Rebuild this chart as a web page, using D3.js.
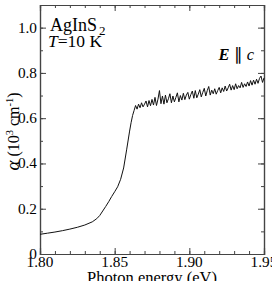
<!DOCTYPE html>
<html>
<head>
<meta charset="utf-8">
<script src="https://cdn.jsdelivr.net/npm/d3@7"></script>
<style>
  body { margin: 0; background: #fff; }
</style>
</head>
<body>
<div id="chart"></div>
<script>
// absorption edge (smooth part)
const edgeEnergy = [1.800, 1.805, 1.810, 1.815, 1.820, 1.825, 1.830, 1.835, 1.838, 1.840,
  1.842, 1.844, 1.846, 1.848, 1.850, 1.852, 1.854, 1.856, 1.858, 1.860, 1.861, 1.862];
const edgeAlpha = [0.087, 0.092, 0.097, 0.103, 0.110, 0.118, 0.128, 0.142, 0.156, 0.170,
  0.190, 0.210, 0.231, 0.254, 0.275, 0.297, 0.330, 0.380, 0.460, 0.543, 0.580, 0.612];

// above the gap (noisy part)
const plateauEnergy = [1.863, 1.864, 1.865, 1.866, 1.867, 1.868, 1.869, 1.870, 1.871, 1.872,
  1.873, 1.874, 1.875, 1.876, 1.877, 1.878, 1.879, 1.880, 1.881, 1.882,
  1.883, 1.884, 1.885, 1.886, 1.887, 1.888, 1.889, 1.890, 1.891, 1.892,
  1.893, 1.894, 1.895, 1.896, 1.897, 1.898, 1.899, 1.900, 1.901, 1.902,
  1.903, 1.904, 1.905, 1.906, 1.907, 1.908, 1.909, 1.910, 1.911, 1.912,
  1.913, 1.914, 1.915, 1.916, 1.917, 1.918, 1.919, 1.920, 1.921, 1.922,
  1.923, 1.924, 1.925, 1.926, 1.927, 1.928, 1.929, 1.930, 1.931, 1.932,
  1.933, 1.934, 1.935, 1.936, 1.937, 1.938, 1.939, 1.940, 1.941, 1.942,
  1.943, 1.944, 1.945, 1.946, 1.947, 1.948, 1.949, 1.950];
const plateauAlpha = [0.634, 0.656, 0.640, 0.662, 0.646, 0.668, 0.650, 0.662, 0.676, 0.650,
  0.678, 0.655, 0.683, 0.658, 0.692, 0.656, 0.684, 0.722, 0.664, 0.698,
  0.662, 0.702, 0.668, 0.686, 0.708, 0.668, 0.698, 0.672, 0.692, 0.712,
  0.672, 0.700, 0.680, 0.710, 0.682, 0.702, 0.714, 0.684, 0.704, 0.720,
  0.688, 0.722, 0.690, 0.706, 0.726, 0.694, 0.714, 0.732, 0.698, 0.722,
  0.740, 0.702, 0.724, 0.708, 0.730, 0.706, 0.722, 0.736, 0.712, 0.734,
  0.718, 0.742, 0.720, 0.734, 0.750, 0.724, 0.744, 0.726, 0.752, 0.730,
  0.744, 0.734, 0.758, 0.736, 0.752, 0.740, 0.760, 0.742, 0.766, 0.746,
  0.768, 0.750, 0.772, 0.754, 0.776, 0.786, 0.758, 0.778];

const xTicks = [1.80, 1.85, 1.90, 1.95];
const xTickLabels = ["1.80", "1.85", "1.90", "1.95"];
const yTicks = [0, 0.2, 0.4, 0.6, 0.8, 1.0];
const yTickLabels = ["0", "0.2", "0.4", "0.6", "0.8", "1.0"];

const width = 272, height = 281;
const margin = {top: 5, right: 8, bottom: 27, left: 40};
const serif = "Liberation Serif";

const svg = d3.select("#chart").append("svg")
  .attr("width", width).attr("height", height)
  .attr("font-family", serif);

const x = d3.scaleLinear().domain([1.80, 1.95]).range([margin.left, width - margin.right]);
const y = d3.scaleLinear().domain([0, 1.1]).range([height - margin.bottom, margin.top]);

const axisColor = "#444";
const fs = "15.3px";

// minor ticks
const xMinor = d3.range(1.80, 1.9501, 0.01);
const yMinor = d3.range(0, 1.101, 0.1);

// bottom
svg.append("g").attr("transform", `translate(0,${y(0)})`)
  .call(d3.axisTop(x).tickValues(xMinor).tickSize(3).tickFormat(""));
svg.append("g").attr("transform", `translate(0,${y(0)})`)
  .call(d3.axisTop(x).tickValues(xTicks).tickSize(6).tickFormat(""));
// top
svg.append("g").attr("transform", `translate(0,${y(1.1)})`)
  .call(d3.axisBottom(x).tickValues(xMinor).tickSize(3).tickFormat(""));
svg.append("g").attr("transform", `translate(0,${y(1.1)})`)
  .call(d3.axisBottom(x).tickValues(xTicks).tickSize(6).tickFormat(""));
// left
svg.append("g").attr("transform", `translate(${x(1.80)},0)`)
  .call(d3.axisRight(y).tickValues(yMinor).tickSize(3).tickFormat(""));
svg.append("g").attr("transform", `translate(${x(1.80)},0)`)
  .call(d3.axisRight(y).tickValues(yTicks).tickSize(6).tickFormat(""));
// right
svg.append("g").attr("transform", `translate(${x(1.95)},0)`)
  .call(d3.axisLeft(y).tickValues(yMinor).tickSize(3).tickFormat(""));
svg.append("g").attr("transform", `translate(${x(1.95)},0)`)
  .call(d3.axisLeft(y).tickValues(yTicks).tickSize(6).tickFormat(""));

svg.selectAll(".domain").attr("stroke", axisColor).attr("stroke-width", 1.2);
svg.selectAll(".tick line").attr("stroke", axisColor);

const txt = () => svg.append("text").attr("font-family", serif).attr("fill", "#000");

// tick labels
xTicks.forEach((d, i) => {
  txt().attr("x", x(d)).attr("y", y(0) + 13)
    .attr("text-anchor", "middle").style("font-size", fs)
    .text(xTickLabels[i]);
});
yTicks.forEach((d, i) => {
  txt().attr("x", x(1.80) - 3).attr("y", y(d) + 5)
    .attr("text-anchor", "end").style("font-size", fs)
    .text(yTickLabels[i]);
});

// axis titles
txt().attr("x", (x(1.80) + x(1.95)) / 2).attr("y", y(0) + 29)
  .attr("text-anchor", "middle").style("font-size", "16.5px")
  .text("Photon energy (eV)");

const yl = txt()
  .attr("transform", `translate(19,${(y(0) + y(1.1)) / 2 + 2}) rotate(-90)`)
  .attr("text-anchor", "middle").style("font-size", "16px");
yl.append("tspan").style("font-style", "italic").style("font-size", "19px").text("α");
yl.append("tspan").text(" (10");
yl.append("tspan").attr("dy", -6).style("font-size", "10.5px").text("3");
yl.append("tspan").attr("dy", 6).text(" cm");
yl.append("tspan").attr("dy", -6).style("font-size", "10.5px").text("-1");
yl.append("tspan").attr("dy", 6).text(")");

// annotations
const t1 = txt().attr("x", 50).attr("y", 31).style("font-size", "18px");
t1.append("tspan").text("AgInS");
t1.append("tspan").attr("dy", 4).attr("dx", 2).style("font-size", "13px").text("2");
const t2 = txt().attr("x", 48).attr("y", 47).style("font-size", "17.5px");
t2.append("tspan").style("font-style", "italic").text("T");
t2.append("tspan").text("=10 K");

const t3 = txt().attr("x", 254).attr("y", 60)
  .attr("text-anchor", "end").style("font-size", "16.5px");
t3.append("tspan").style("font-weight", "bold").style("font-style", "italic").text("E");
t3.append("tspan").text(" \u2225 ");
t3.append("tspan").style("font-style", "italic").text("c");

// data line
const pts = edgeEnergy.map((e, i) => [e, edgeAlpha[i]])
  .concat(plateauEnergy.map((e, i) => [e, plateauAlpha[i]]));
svg.append("path").datum(pts)
  .attr("fill", "none").attr("stroke", "#111").attr("stroke-width", 1)
  .attr("d", d3.line().x(d => x(d[0])).y(d => y(d[1])));
</script>
</body>
</html>
